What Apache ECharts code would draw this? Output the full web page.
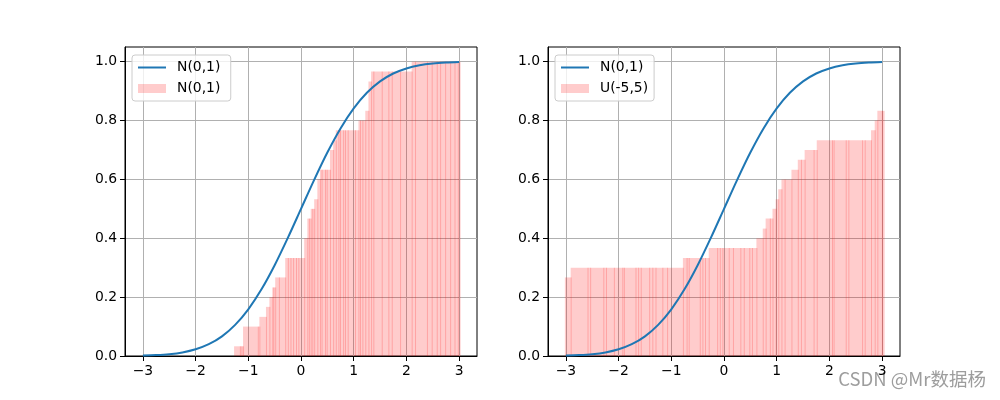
<!DOCTYPE html>
<html><head><meta charset="utf-8">
<script src="https://cdn.jsdelivr.net/npm/echarts@6/dist/echarts.min.js"></script>
<style>html,body{margin:0;padding:0;background:#fff}#c{width:1000px;height:400px}</style>
</head><body><div id="c"></div>
<script>
// Normal CDF curve read at steps of 0.25
const cdfX = [-3,-2.75,-2.5,-2.25,-2,-1.75,-1.5,-1.25,-1,-0.75,-0.5,-0.25,0,0.25,0.5,0.75,1,1.25,1.5,1.75,2,2.25,2.5,2.75,3];
const cdfY = [0.0013,0.003,0.0062,0.0122,0.0228,0.0401,0.0668,0.1057,0.1587,0.2266,0.3085,0.4013,0.5,0.5987,0.6915,0.7734,0.8413,0.8943,0.9332,0.9599,0.9772,0.9878,0.9938,0.997,0.9987];

// Left panel: empirical CDF bars (left edge, height)
const leftEdges = [-1.27,-1.16,-1.13,-1.10,-0.82,-0.79,-0.665,-0.60,-0.545,-0.525,-0.49,-0.42,-0.30,-0.25,-0.20,-0.15,-0.095,-0.05,0.06,0.12,0.15,0.184,0.215,0.25,0.31,0.36,0.39,0.456,0.487,0.55,0.61,0.66,0.71,0.74,0.80,0.835,0.886,1.025,1.09,1.12,1.165,1.22,1.28,1.33,1.373,1.532,1.658,1.722,1.88,2.1,2.164,2.39,2.48,2.576,2.64,2.735,2.83,2.913,2.976];
const leftHeights = [0.033,0.033,0.033,0.1,0.1,0.133,0.167,0.2,0.233,0.233,0.267,0.267,0.333,0.333,0.333,0.333,0.333,0.333,0.4,0.467,0.467,0.5,0.5,0.533,0.6,0.633,0.633,0.633,0.633,0.7,0.733,0.767,0.767,0.767,0.767,0.767,0.767,0.767,0.8,0.8,0.8,0.833,0.933,0.967,0.967,0.967,0.967,0.967,0.967,1.0,1.0,1.0,1.0,1.0,1.0,1.0,1.0,1.0,1.0];
const leftEnd = 3.01;

// Right panel
const rightEdges = [-3.02,-2.91,-2.59,-2.54,-2.29,-2.24,-2.09,-1.93,-1.90,-1.68,-1.63,-1.58,-1.42,-1.36,-1.30,-1.17,-1.08,-0.78,-0.71,-0.67,-0.46,-0.41,-0.36,-0.29,-0.13,-0.08,-0.03,0.09,0.17,0.31,0.375,0.48,0.53,0.615,0.735,0.79,0.87,0.92,0.98,1.03,1.09,1.15,1.28,1.40,1.46,1.53,1.70,1.76,2.05,2.08,2.31,2.36,2.62,2.67,2.79,2.86,2.91,2.996];
const rightHeights = [0.267,0.3,0.3,0.3,0.3,0.3,0.3,0.3,0.3,0.3,0.3,0.3,0.3,0.3,0.3,0.3,0.3,0.333,0.333,0.333,0.333,0.333,0.333,0.367,0.367,0.367,0.367,0.367,0.367,0.367,0.367,0.367,0.367,0.4,0.433,0.467,0.467,0.5,0.533,0.567,0.6,0.6,0.633,0.667,0.667,0.7,0.7,0.733,0.733,0.733,0.733,0.733,0.733,0.733,0.767,0.8,0.833,0.833];
const rightEnd = 3.03;

const xTicks = [-3,-2,-1,0,1,2,3];
const yTicks = [0,0.2,0.4,0.6,0.8,1.0];
const lineName = 'N(0,1)';
const leftBarName = 'N(0,1) ';
const rightBarName = 'U(-5,5)';

const FONT = 'DejaVu Sans';
const chart = echarts.init(document.getElementById('c'), null, {renderer: 'canvas'});

function barData(edges, heights, end) {
  return edges.map((x, i) => [x, i + 1 < edges.length ? edges[i + 1] : end, heights[i]]);
}
function renderBar(params, api) {
  const x0 = api.value(0), x1 = api.value(1), h = api.value(2);
  const p0 = api.coord([x0, h]);
  const p1 = api.coord([x1, 0]);
  return {
    type: 'rect',
    shape: {x: p0[0], y: p0[1], width: p1[0] - p0[0] + 1, height: p1[1] - p0[1]},
    style: {fill: 'rgba(255,0,0,0.2)'}
  };
}
const lineData = cdfX.map((x, i) => [x, cdfY[i]]);
const fmtX = v => (v < 0 ? '\u2212' + Math.abs(v) : String(v));

function xAxis(i) {
  return {
    type: 'value', gridIndex: i, min: -3.34, max: 3.34,
    axisLine: {show: true, onZero: false, lineStyle: {color: '#000', width: 1}},
    axisTick: {show: true, length: 5, customValues: xTicks, lineStyle: {color: '#000', width: 1}},
    axisLabel: {customValues: xTicks, margin: 8, formatter: fmtX, color: '#000', fontSize: 13.9, fontFamily: FONT},
    splitLine: {show: true, lineStyle: {color: '#b0b0b0', width: 1}}
  };
}
function yAxis(i) {
  return {
    type: 'value', gridIndex: i, min: 0, max: 1.05,
    axisLine: {show: true, onZero: false, lineStyle: {color: '#000', width: 1}},
    axisTick: {show: true, length: 5, customValues: yTicks, lineStyle: {color: '#000', width: 1}},
    axisLabel: {customValues: yTicks, margin: 8, formatter: v => v.toFixed(1), color: '#000', fontSize: 13.9, fontFamily: FONT},
    splitLine: {show: true, lineStyle: {color: '#b0b0b0', width: 1}}
  };
}
function legend(left, names) {
  return {
    orient: 'vertical', left: left, top: 55,
    padding: [5, 6, 5, 5], itemGap: 6, itemWidth: 28, itemHeight: 9,
    backgroundColor: 'rgba(255,255,255,0.8)', borderColor: '#cccccc', borderWidth: 1, borderRadius: 3,
    textStyle: {color: '#000', fontSize: 13.9, fontFamily: FONT, lineHeight: 15, padding: [0, 0, 0, 6]},
    selectedMode: false,
    data: [
      {name: names[0], itemStyle: {opacity: 0}},
      {name: names[1], icon: 'rect'}
    ]
  };
}

chart.setOption({
  animation: false,
  backgroundColor: '#fff',
  grid: [
    {left: 125, top: 47, width: 352, height: 309, show: true, borderColor: '#000', borderWidth: 1, backgroundColor: 'transparent'},
    {left: 548, top: 47, width: 352, height: 309, show: true, borderColor: '#000', borderWidth: 1, backgroundColor: 'transparent'}
  ],
  xAxis: [xAxis(0), xAxis(1)],
  yAxis: [yAxis(0), yAxis(1)],
  legend: [legend(132, [lineName, leftBarName]), legend(555, [lineName, rightBarName])],
  graphic: [{
    type: 'text', right: 14, top: 370,
    style: {text: 'CSDN @Mr数据杨', fontSize: 18.5, fontFamily: 'Noto Sans CJK SC', fill: 'rgba(140,140,140,0.85)'}
  }],
  series: [
    {type: 'custom', name: leftBarName, xAxisIndex: 0, yAxisIndex: 0, renderItem: renderBar,
     encode: {x: [0, 1], y: 2}, itemStyle: {color: 'rgba(255,0,0,0.2)'}, data: barData(leftEdges, leftHeights, leftEnd), z: 2, clip: true},
    {type: 'line', name: lineName, xAxisIndex: 0, yAxisIndex: 0, data: lineData, smooth: 0.3,
     symbol: 'none', showSymbol: false, lineStyle: {color: '#1f77b4', width: 2}, itemStyle: {color: '#1f77b4'}, z: 3},
    {type: 'custom', name: rightBarName, xAxisIndex: 1, yAxisIndex: 1, renderItem: renderBar,
     encode: {x: [0, 1], y: 2}, itemStyle: {color: 'rgba(255,0,0,0.2)'}, data: barData(rightEdges, rightHeights, rightEnd), z: 2, clip: true},
    {type: 'line', name: lineName, xAxisIndex: 1, yAxisIndex: 1, data: lineData, smooth: 0.3,
     symbol: 'none', showSymbol: false, lineStyle: {color: '#1f77b4', width: 2}, itemStyle: {color: '#1f77b4'}, z: 3}
  ]
});
</script></body></html>
